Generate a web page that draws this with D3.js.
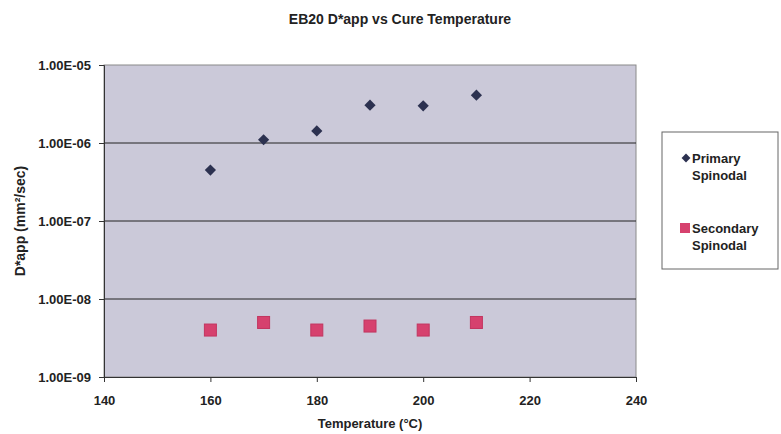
<!DOCTYPE html>
<html><head><meta charset="utf-8">
<script src="https://cdn.jsdelivr.net/npm/d3@7"></script>
<style>body{margin:0;background:#fff;} text{font-family:Arial,"Liberation Sans",sans-serif;font-weight:bold;fill:#222;}</style>
</head><body>
<svg id="c" width="781" height="434"></svg>
<script>
const temperatures = [160,170,180,190,200,210];
const primary = [4.5e-7,1.1e-6,1.43e-6,3.05e-6,3.0e-6,4.1e-6];
const secondary = [4.0e-9,5.0e-9,4.0e-9,4.5e-9,4.0e-9,5.0e-9];
const xTicks = [140,160,180,200,220,240];
const yTicks = [1e-5,1e-6,1e-7,1e-8,1e-9];
const seriesNames = ["Primary Spinodal","Secondary Spinodal"];

const svg = d3.select("#c");
const L=104,R=636,T=65,B=377;
const x = d3.scaleLinear().domain([140,240]).range([L,R]);
const y = d3.scaleLog().domain([1e-9,1e-5]).range([B,T]);

svg.append("rect").attr("x",L).attr("y",T).attr("width",R-L).attr("height",B-T)
  .attr("fill","#cbc9d9").attr("stroke","#8a8a8a").attr("stroke-width",1);

svg.append("g").selectAll("line").data(yTicks.slice(1,4)).join("line")
  .attr("x1",L).attr("x2",R).attr("y1",d=>y(d)).attr("y2",d=>y(d))
  .attr("stroke","#222").attr("stroke-width",1);

const fmt = d=>{const e=Math.round(Math.log10(d));return "1.00E-"+String(-e).padStart(2,"0");};
const ya = svg.append("g").attr("transform",`translate(${L},0)`)
  .call(d3.axisLeft(y).tickValues(yTicks).tickFormat(fmt).tickSize(5).tickPadding(8));
ya.select(".domain").attr("stroke","#333");
ya.selectAll("line").attr("stroke","#333");
ya.selectAll("text").attr("font-size",13).attr("fill","#222");

const xa = svg.append("g").attr("transform",`translate(0,${B})`)
  .call(d3.axisBottom(x).tickValues(xTicks).tickFormat(d3.format("d")).tickSize(5).tickPadding(14));
xa.select(".domain").attr("stroke","#333");
xa.selectAll("line").attr("stroke","#333");
xa.selectAll("text").attr("font-size",13).attr("fill","#222");

svg.append("text").attr("x",400).attr("y",24).attr("text-anchor","middle").attr("font-size",14).text("EB20 D*app vs Cure Temperature");
svg.append("text").attr("x",370).attr("y",428).attr("text-anchor","middle").attr("font-size",13).text("Temperature (°C)");
svg.append("text").attr("transform","translate(25,221) rotate(-90)").attr("text-anchor","middle").attr("font-size",14).text("D*app (mm²/sec)");

const diamond = d3.symbol().type(d3.symbolDiamond2).size(80);
svg.append("g").selectAll("path").data(temperatures).join("path")
  .attr("d",diamond).attr("transform",(d,i)=>`translate(${x(d)},${y(primary[i])})`)
  .attr("fill","#2c3150");
svg.append("g").selectAll("rect").data(temperatures).join("rect")
  .attr("x",d=>x(d)-6).attr("y",(d,i)=>y(secondary[i])-6).attr("width",12).attr("height",12)
  .attr("fill","#d6416e").attr("stroke","#c23560").attr("stroke-width",1);

// legend
svg.append("rect").attr("x",662).attr("y",132).attr("width",116).attr("height",137)
  .attr("fill","#fff").attr("stroke","#666");
svg.append("path").attr("d",d3.symbol().type(d3.symbolDiamond2).size(50)).attr("transform","translate(686,158)").attr("fill","#2c3150");
svg.append("rect").attr("x",680).attr("y",223).attr("width",10).attr("height",10).attr("fill","#d6416e");
const lg = [[692,163,"Primary"],[692,180,"Spinodal"],[692,233,"Secondary"],[692,250,"Spinodal"]];
svg.append("g").selectAll("text").data(lg).join("text").attr("x",d=>d[0]).attr("y",d=>d[1]).attr("font-size",13).text(d=>d[2]);
</script>
</body></html>
